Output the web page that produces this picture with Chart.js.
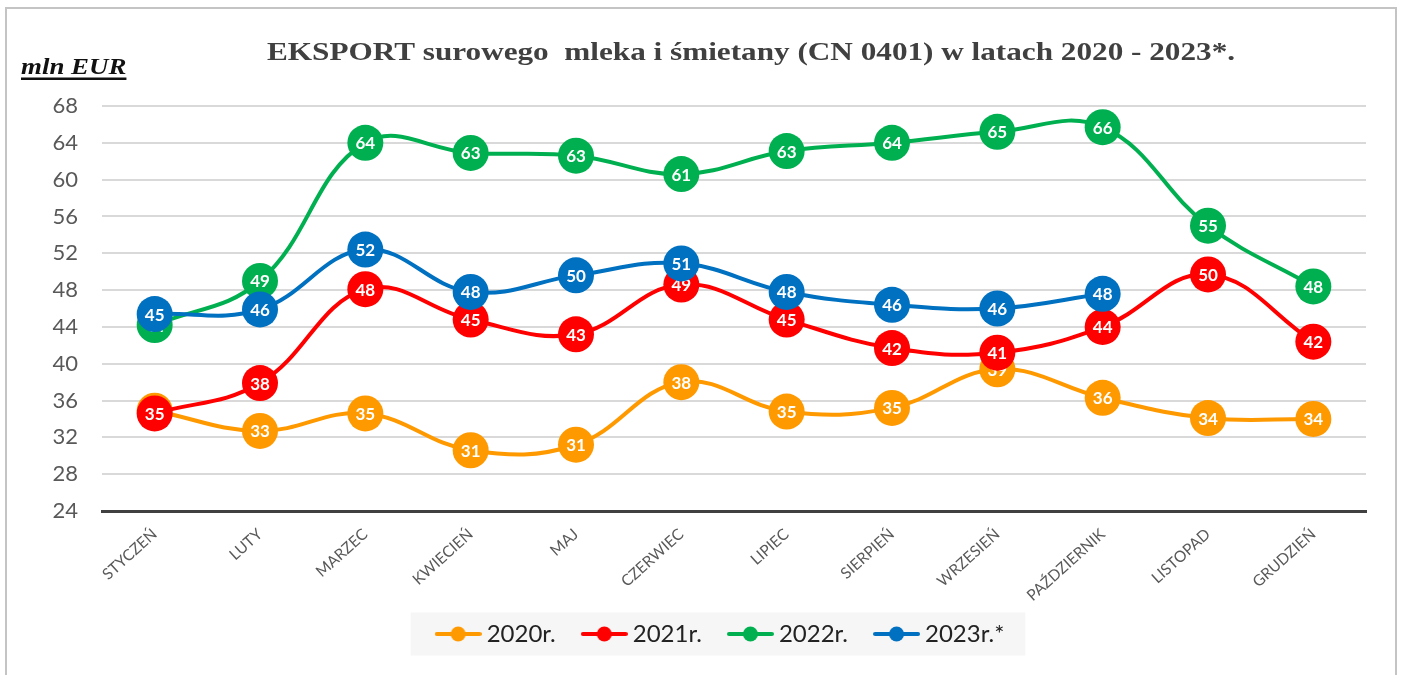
<!DOCTYPE html>
<html>
<head>
<meta charset="utf-8">
<script src="https://cdn.jsdelivr.net/npm/chart.js@4/dist/chart.umd.min.js"></script>
<style>
  html, body { margin: 0; padding: 0; background: #ffffff; }
  #wrap { width: 1402px; height: 675px; position: relative; }
</style>
</head>
<body>
<div id="wrap"><canvas id="c" width="1402" height="675"></canvas></div>
<script>
const months = ['STYCZEŃ', 'LUTY', 'MARZEC', 'KWIECIEŃ', 'MAJ', 'CZERWIEC', 'LIPIEC', 'SIERPIEŃ', 'WRZESIEŃ', 'PAŹDZIERNIK', 'LISTOPAD', 'GRUDZIEŃ'];
const seriesNames = ['2020r.', '2021r.', '2022r.', '2023r.*'];
const values2020 = [34.9, 32.7, 34.6, 30.6, 31.2, 38.0, 34.8, 35.2, 39.4, 36.3, 34.1, 34.0];
const values2021 = [34.6, 37.9, 48.1, 44.8, 43.2, 48.6, 44.8, 41.7, 41.2, 44.0, 49.7, 42.4];
const values2022 = [44.2, 49.0, 64.0, 62.9, 62.6, 60.6, 63.1, 64.0, 65.2, 65.7, 55.0, 48.4];
const values2023 = [45.4, 45.9, 52.4, 47.8, 49.6, 50.9, 47.8, 46.4, 46.0, 47.6, null, null];
const yTicks = [24, 28, 32, 36, 40, 44, 48, 52, 56, 60, 64, 68];
const titleText = 'EKSPORT surowego  mleka i śmietany (CN 0401) w latach 2020 - 2023*.';
const unitText = 'mln EUR';

const colors = ['#FF9900', '#FF0000', '#00B050', '#0070C0'];
const allValues = [values2020, values2021, values2022, values2023];

function makeMarker(color) {
  const c = document.createElement('canvas');
  c.width = 47; c.height = 16;
  const g = c.getContext('2d');
  g.strokeStyle = color; g.lineWidth = 4; g.lineCap = 'round';
  g.beginPath(); g.moveTo(2, 8); g.lineTo(45, 8); g.stroke();
  g.fillStyle = color;
  g.beginPath(); g.arc(23.5, 8, 7.5, 0, Math.PI * 2); g.fill();
  return c;
}
const markers = colors.map(makeMarker);

const LEGEND_CENTER_X = 723;
const LEGEND_ROW_Y = 634;

const decorPlugin = {
  id: 'decor',
  afterLayout(chart) {
    const lg = chart.legend;
    if (!lg) return;
    const opts = lg.options.labels;
    const fs = opts.font.size;
    const dy = (LEGEND_ROW_Y - opts.padding - fs / 2) - lg.top;
    lg.top += dy; lg.bottom += dy;
    const dx = LEGEND_CENTER_X - (lg.left + lg.right) / 2;
    lg.left += dx; lg.right += dx;
  },
  beforeDraw(chart) {
    const ctx = chart.ctx;
    ctx.save();
    ctx.fillStyle = '#ffffff';
    ctx.fillRect(0, 0, chart.width, chart.height);
    ctx.strokeStyle = '#c4c4c4';
    ctx.lineWidth = 2;
    ctx.strokeRect(6, 8, 1390, 690);
    const lg = chart.legend;
    if (lg && lg.legendHitBoxes && lg.legendHitBoxes.length) {
      const hb = lg.legendHitBoxes;
      const first = hb[0], last = hb[hb.length - 1];
      const cy = first.top + first.height / 2;
      ctx.fillStyle = '#f6f6f6';
      ctx.fillRect(first.left - 31, cy - 21.5, (last.left + last.width + 21) - (first.left - 31), 43);
    }
    ctx.restore();
  },
  afterDraw(chart) {
    const ctx = chart.ctx;
    ctx.save();
    ctx.fillStyle = '#404040';
    ctx.font = 'bold 26px "Liberation Serif", "Times New Roman", serif';
    ctx.textAlign = 'center';
    ctx.textBaseline = 'middle';
    ctx.translate(751, 53);
    ctx.scale(1.2, 1);
    ctx.fillText(titleText, 0, 0);
    ctx.restore();

    ctx.save();
    ctx.fillStyle = '#111111';
    ctx.font = 'italic bold 23px "Liberation Serif", "Times New Roman", serif';
    ctx.textAlign = 'left';
    ctx.textBaseline = 'alphabetic';
    ctx.translate(21, 74);
    ctx.scale(1.17, 1);
    ctx.fillText(unitText, 0, 0);
    const w = ctx.measureText(unitText).width;
    ctx.fillRect(0, 3.5, w, 2.5);
    ctx.restore();
  }
};

const labelPlugin = {
  id: 'pointLabels',
  afterDatasetDraw(chart, args) {
    const meta = args.meta;
    const ds = chart.data.datasets[args.index];
    const ctx = chart.ctx;
    ctx.save();
    ctx.fillStyle = '#ffffff';
    ctx.font = 'bold 17px Lato, "Open Sans", sans-serif';
    ctx.textAlign = 'center';
    ctx.textBaseline = 'middle';
    meta.data.forEach((el, i) => {
      const v = ds.data[i];
      if (v === null || v === undefined) return;
      ctx.fillText(String(Math.round(v)), el.x, el.y + 1);
    });
    ctx.restore();
  }
};

const datasets = seriesNames.map((name, i) => ({
  label: name,
  data: allValues[i],
  borderColor: colors[i],
  backgroundColor: colors[i],
  pointBackgroundColor: colors[i],
  pointBorderColor: colors[i],
  pointBorderWidth: 0,
  pointRadius: 18,
  pointHoverRadius: 18,
  borderWidth: 4,
  tension: 0.4,
  fill: false,
  order: 4 - i
}));

new Chart(document.getElementById('c'), {
  type: 'line',
  data: { labels: months, datasets: datasets },
  options: {
    responsive: false,
    animation: false,
    devicePixelRatio: 1,
    layout: { padding: { left: 0, right: 36, top: 106, bottom: 0 } },
    scales: {
      x: {
        offset: true,
        grid: { display: false, drawTicks: false },
        border: { display: true, color: '#404040', width: 3 },
        ticks: {
          color: '#595959',
          font: { family: 'Lato, "Open Sans", sans-serif', size: 15.5 },
          maxRotation: 42,
          minRotation: 42,
          padding: 14,
          autoSkip: false
        },
        afterFit(scale) { scale.height = 98; }
      },
      y: {
        min: 24,
        max: 68,
        afterBuildTicks(scale) { scale.ticks = yTicks.map(v => ({ value: v })); },
        grid: {
          drawTicks: false,
          color: (c) => (c.tick && c.tick.value === 24) ? 'rgba(0,0,0,0)' : '#d9d9d9',
          lineWidth: 2
        },
        border: { display: false },
        ticks: {
          color: '#595959',
          font: { family: 'Lato, "Open Sans", sans-serif', size: 22 },
          padding: 24
        },
        afterFit(scale) { scale.width = 102; }
      }
    },
    plugins: {
      title: { display: false },
      tooltip: { enabled: false },
      legend: {
        display: true,
        position: 'bottom',
        labels: {
          usePointStyle: true,
          pointStyleWidth: 33,
          padding: 32,
          color: '#222222',
          font: { family: 'Lato, "Open Sans", sans-serif', size: 24 },
          sort: (a, b) => a.datasetIndex - b.datasetIndex,
          generateLabels(chart) {
            const items = Chart.defaults.plugins.legend.labels.generateLabels(chart);
            items.forEach(it => { it.pointStyle = markers[it.datasetIndex]; });
            return items;
          }
        }
      }
    }
  },
  plugins: [decorPlugin, labelPlugin]
});
</script>
</body>
</html>
